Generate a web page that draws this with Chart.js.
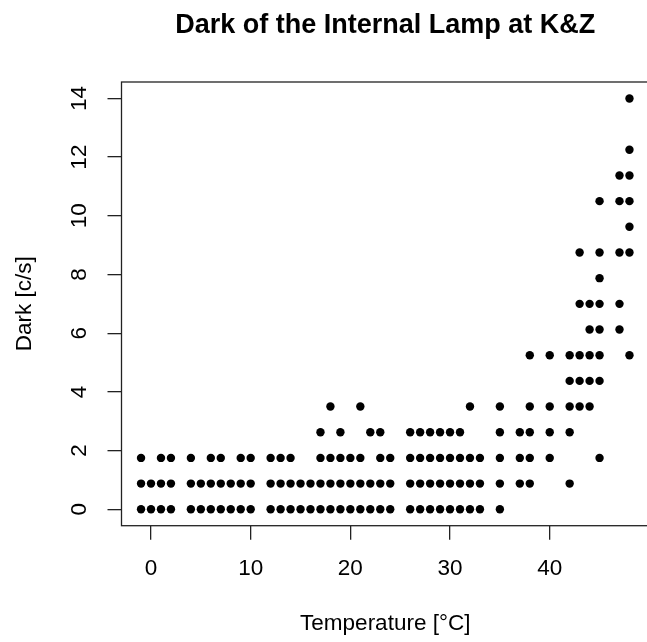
<!DOCTYPE html>
<html>
<head>
<meta charset="utf-8">
<script src="https://cdn.jsdelivr.net/npm/chart.js@4"></script>
<style>
  html, body { margin: 0; padding: 0; overflow: hidden; background: #fff; }
  #wrap { width: 647px; height: 642px; overflow: hidden; }
</style>
</head>
<body>
<div id="wrap"><canvas id="myChart" width="680" height="642"></canvas></div>
<script>
// Dark count levels (c/s) and the temperatures (°C) measured at each level
const darkLevels = [0, 0.875, 1.75, 2.625, 3.5, 4.375, 5.25, 6.125, 7.0, 7.875, 8.75, 9.625, 10.5, 11.375, 12.25, 14.0];
const tempsByLevel = [
    [-1, 0, 1, 2, 4, 5, 6, 7, 8, 9, 10, 12, 13, 14, 15, 16, 17, 18, 19, 20, 21, 22, 23, 24, 26, 27, 28, 29, 30, 31, 32, 33, 35],
    [-1, 0, 1, 2, 4, 5, 6, 7, 8, 9, 10, 12, 13, 14, 15, 16, 17, 18, 19, 20, 21, 22, 23, 24, 26, 27, 28, 29, 30, 31, 32, 33, 35, 37, 38, 42],
    [-1, 1, 2, 4, 6, 7, 9, 10, 12, 13, 14, 17, 18, 19, 20, 21, 23, 24, 26, 27, 28, 29, 30, 31, 32, 33, 35, 37, 38, 40, 45],
    [17, 19, 22, 23, 26, 27, 28, 29, 30, 31, 35, 37, 38, 40, 42],
    [18, 21, 32, 35, 38, 40, 42, 43, 44],
    [42, 43, 44, 45],
    [38, 40, 42, 43, 44, 45, 48],
    [44, 45, 47],
    [43, 44, 45, 47],
    [45],
    [43, 45, 47, 48],
    [48],
    [45, 47, 48],
    [47, 48],
    [48],
    [48]
];

const xTicks = [0, 10, 20, 30, 40];
const yTicks = [0, 2, 4, 6, 8, 10, 12, 14];

const points = [];
darkLevels.forEach((d, i) => {
    tempsByLevel[i].forEach(t => points.push({ x: t, y: d }));
});

const FONT = '"Liberation Sans", Arial, Helvetica, sans-serif';
const INK = '#222';

// draws the full frame round the plot like R's box()
const frame = {
    id: 'frame',
    afterDraw(chart) {
        const { ctx, chartArea: a } = chart;
        ctx.save();
        ctx.strokeStyle = INK;
        ctx.lineWidth = 1.3;
        ctx.strokeRect(a.left, a.top, a.right - a.left, a.bottom - a.top);
        ctx.restore();
    }
};

function drawChart() {
    const ctx = document.getElementById('myChart').getContext('2d');
    new Chart(ctx, {
        type: 'scatter',
        data: {
            datasets: [{
                data: points,
                backgroundColor: '#000',
                borderWidth: 0,
                pointRadius: 4.2,
                pointHoverRadius: 4.2
            }]
        },
        options: {
            responsive: false,
            animation: false,
            layout: { padding: { left: 0, right: 31, top: 0, bottom: 0 } },
            plugins: {
                legend: { display: false },
                tooltip: { enabled: false },
                title: {
                    display: true,
                    fullSize: false,
                    text: 'Dark of the Internal Lamp at K&Z',
                    color: '#000',
                    font: { family: FONT, size: 27, weight: 'bold', lineHeight: 1.2 },
                    padding: { top: 9.5, bottom: 40.1 }
                }
            },
            scales: {
                x: {
                    type: 'linear',
                    min: -2.96,
                    max: 49.96,
                    bounds: 'data',
                    afterBuildTicks: s => { s.ticks = xTicks.map(v => ({ value: v })); },
                    afterFit: s => { s.height = 116.3; },
                    grid: { drawOnChartArea: false, tickLength: 14, color: INK, lineWidth: 1.3 },
                    border: { display: false },
                    ticks: { color: '#000', padding: 15.8, maxRotation: 0, font: { family: FONT, size: 22.5 } },
                    title: {
                        display: true,
                        text: 'Temperature [°C]',
                        color: '#000',
                        font: { family: FONT, size: 22.5, lineHeight: 1.2 },
                        padding: { top: 0, bottom: 4.5 }
                    }
                },
                y: {
                    type: 'linear',
                    min: -0.56,
                    max: 14.56,
                    bounds: 'data',
                    afterBuildTicks: s => { s.ticks = yTicks.map(v => ({ value: v })); },
                    afterFit: s => { s.width = 121.5; },
                    grid: { drawOnChartArea: false, tickLength: 14, color: INK, lineWidth: 1.3 },
                    border: { display: false },
                    ticks: {
                        color: '#000',
                        padding: 15,
                        minRotation: 90,
                        maxRotation: 90,
                        crossAlign: 'center',
                        font: { family: FONT, size: 22.5 }
                    },
                    title: {
                        display: true,
                        text: 'Dark [c/s]',
                        color: '#000',
                        font: { family: FONT, size: 22.5, lineHeight: 1.2 },
                        padding: { top: 11, bottom: 0 }
                    }
                }
            }
        },
        plugins: [frame]
    });
}

drawChart();
</script>
</body>
</html>
